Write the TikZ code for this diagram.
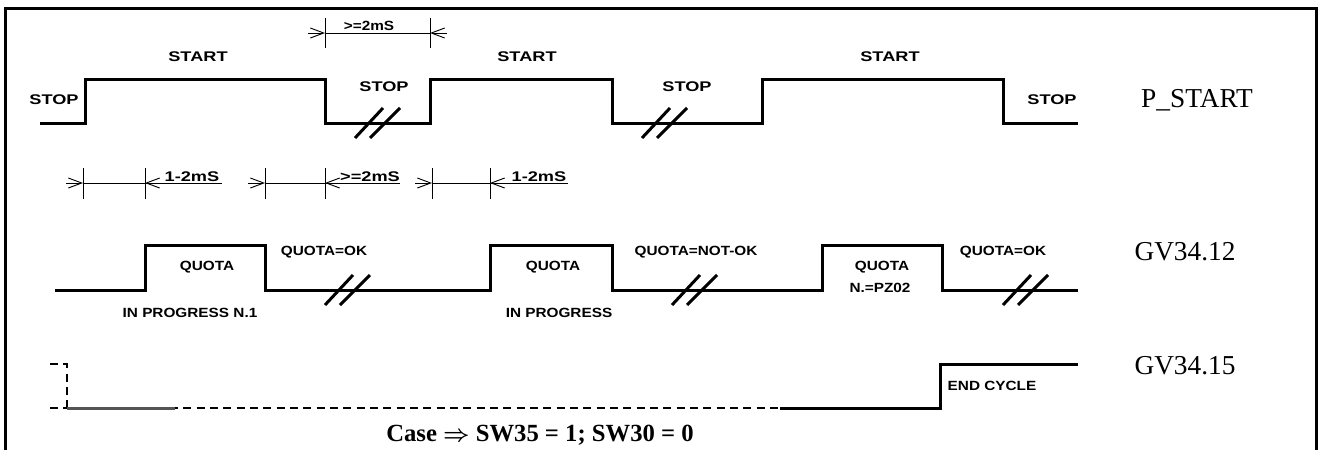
\documentclass[tikz,border=0pt]{standalone}
\usepackage{fontspec}
\usepackage{tikz}
\setmainfont{Liberation Serif}
\newfontfamily\cadfont{Liberation Sans}[FakeStretch=1.3]
\newfontfamily\cadnarrow{Liberation Sans}[FakeStretch=1.15]
\usetikzlibrary{arrows.meta}
\definecolor{wireBlack}{RGB}{0,0,0}
\definecolor{wireGray}{RGB}{85,85,85}

\tikzset{
  frameline/.style={line width=2.25pt},
  wave/.style={wireBlack, line width=2.25pt, line join=miter},
  dashwave/.style={wireBlack, line width=1.6pt, dash pattern=on 6pt off 4pt},
  dimline/.style={line width=0.7pt},
  dimarrow/.style={dimline, -{Straight Barb[length=10pt,width=7.5pt]}},
  extline/.style={line width=0.6pt},
  cad/.style={font=\cadfont\bfseries\fontsize{10.5}{12}\selectfont, inner sep=0pt},
  cadsm/.style={font=\cadnarrow\bfseries\fontsize{10}{12}\selectfont, inner sep=0pt},
  tracename/.style={font=\fontsize{20.5}{24}\selectfont, inner sep=0pt},
  brk/.pic={\draw[wave] (-22,15) -- (6,-15) (-7,15) -- (23,-15);}
}

\begin{document}
\begin{tikzpicture}[x=0.75pt,y=-0.75pt]
\useasboundingbox (0,0) rectangle (1321,450);
\draw[frameline] (5,450) -- (5,8) -- (1316,8) -- (1316,450);

% P_START
\draw[wave] (40,123) -- (85,123) -- (85,79) -- (325,79) -- (325,123) -- (430,123)
  -- (430,79) -- (612,79) -- (612,123) -- (762,123) -- (762,79) -- (1003,79)
  -- (1003,123) -- (1078,123);
\pic at (377,123) {brk};
\pic at (664,123) {brk};
\node[cad] (stopA) at (54,100) {STOP};
\node[cad] (startA) at (198,57) {START};
\node[cad] (stopB) at (384,87) {STOP};
\node[cad] (startB) at (527,57) {START};
\node[cad] (stopC) at (687,87) {STOP};
\node[cad] (startC) at (890,57) {START};
\node[cad] (stopD) at (1052,100) {STOP};
\node[tracename] (pstart) at (1197,100) {P\_START};

% >=2mS above
\draw[extline] (325,18) -- (325,48);
\draw[extline] (430,18) -- (430,48);
\draw[dimline] (325,33) -- (430,33);
\draw[dimarrow] (308,33) -- (325,33);
\draw[dimarrow] (447,33) -- (430,33);
\node[cadsm, anchor=base] (dimTop) at (369,30) {>=2mS};

% timings
\foreach \xx in {83,145,265,325,432,490}
  \draw[extline] (\xx,168) -- (\xx,199);
\draw[dimarrow] (66,183) -- (83,183);
\draw[dimline] (83,183) -- (222,183);
\draw[dimarrow] (162,183) -- (145,183);
\node[cad, anchor=base] (dimA) at (192,181) {1-2mS};
\draw[dimarrow] (248,183) -- (265,183);
\draw[dimline] (265,183) -- (400,183);
\draw[dimarrow] (342,183) -- (325,183);
\node[cad, anchor=base] (dimB) at (370,181) {>=2mS};
\draw[dimarrow] (415,183) -- (432,183);
\draw[dimline] (432,183) -- (568,183);
\draw[dimarrow] (507,183) -- (490,183);
\node[cad, anchor=base] (dimC) at (539,181) {1-2mS};

% GV34.12
\draw[wave] (55,290) -- (145,290) -- (145,245) -- (265,245) -- (265,290) -- (490,290)
  -- (490,245) -- (612,245) -- (612,290) -- (822,290) -- (822,245) -- (942,245)
  -- (942,290) -- (1078,290);
\pic at (347,290) {brk};
\pic at (694,290) {brk};
\pic at (1025,290) {brk};
\node[cadsm] (quotaA) at (207,267) {QUOTA};
\node[cadsm] (okA) at (324,252) {QUOTA=OK};
\node[cadsm] (progA) at (190,313) {IN PROGRESS N.1};
\node[cadsm] (quotaB) at (553,267) {QUOTA};
\node[cadsm] (notok) at (696,252) {QUOTA=NOT-OK};
\node[cadsm] (progB) at (559,313) {IN PROGRESS};
\node[cadsm] (quotaC) at (882,267) {QUOTA};
\node[cadsm] (pz) at (880,288) {N.=PZ02};
\node[cadsm] (okB) at (1003,252) {QUOTA=OK};
\node[tracename] (gvA) at (1185,252) {GV34.12};

% GV34.15
\draw[dashwave] (50,364) -- (67,364) -- (67,408);
\draw[dashwave] (50,408) -- (780,408);
\draw[wave, wireGray] (67,408) -- (175,408);
\draw[wave] (780,408) -- (940,408) -- (940,364) -- (1078,364);
\node[cadsm] (endcyc) at (992,386) {END CYCLE};
\node[tracename] (gvB) at (1185,366) {GV34.15};
\node[font=\bfseries\fontsize{18.5}{22}\selectfont\boldmath, inner sep=0pt] (casenote)
  at (540,435) {Case $\Rightarrow$ SW35 = 1; SW30 = 0};
\end{tikzpicture}
\end{document}
